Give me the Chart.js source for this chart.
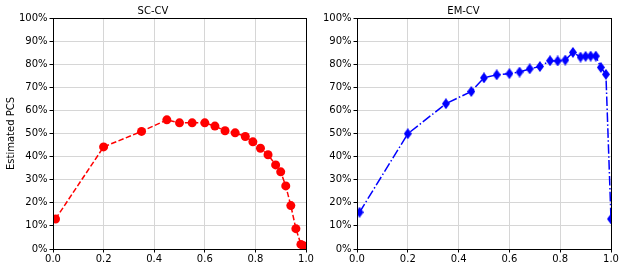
<!DOCTYPE html>
<html>
<head>
<meta charset="utf-8">
<script src="https://cdn.jsdelivr.net/npm/chart.js@4.4.1/dist/chart.umd.min.js"></script>
<style>
  html, body { margin: 0; padding: 0; background: #fff; }
  .caja { position: absolute; top: 0; height: 269px; }
  #cajaIzq { left: 0; width: 316px; }
  #cajaDer { left: 316px; width: 307px; }
</style>
</head>
<body>
<div class="caja" id="cajaIzq"><canvas id="graficaSC"></canvas></div>
<div class="caja" id="cajaDer"><canvas id="graficaEM"></canvas></div>
<script>
// Datos
const scX = [0.01, 0.2, 0.35, 0.45, 0.5, 0.55, 0.6, 0.64, 0.68, 0.72, 0.76, 0.79, 0.82, 0.85, 0.88, 0.9, 0.92, 0.94, 0.96, 0.98, 0.99];
const scY = [13.0, 44.2, 50.9, 55.9, 54.6, 54.6, 54.6, 53.2, 51.2, 50.3, 48.7, 46.4, 43.6, 40.8, 36.4, 33.4, 27.3, 18.8, 8.8, 2.0, 1.4];

const emX = [0.01, 0.2, 0.35, 0.45, 0.5, 0.55, 0.6, 0.64, 0.68, 0.72, 0.76, 0.79, 0.82, 0.85, 0.88, 0.9, 0.92, 0.94, 0.96, 0.98, 1.0];
const emY = [15.9, 49.9, 62.9, 68.2, 74.1, 75.4, 75.9, 76.6, 78.0, 79.0, 81.5, 81.4, 81.8, 85.1, 83.1, 83.4, 83.5, 83.5, 78.6, 75.6, 13.0];

const ticksX = [0, 0.2, 0.4, 0.6, 0.8, 1.0];

const fuente = "'DejaVu Sans', sans-serif";

// Rombo delgado (marcador 'd' de matplotlib)
function romboDelgado(color) {
    const c = document.createElement('canvas');
    c.width = 8; c.height = 11;
    const ctx = c.getContext('2d');
    ctx.fillStyle = color;
    ctx.beginPath();
    ctx.moveTo(4, 0);
    ctx.lineTo(8, 5.5);
    ctx.lineTo(4, 11);
    ctx.lineTo(0, 5.5);
    ctx.closePath();
    ctx.fill();
    return c;
}

// Marco negro alrededor del área de la gráfica
const marco = {
    id: 'marco',
    afterDraw(chart) {
        const a = chart.chartArea;
        const ctx = chart.ctx;
        ctx.save();
        ctx.strokeStyle = '#000';
        ctx.lineWidth = 1;
        ctx.strokeRect(Math.round(a.left) + 0.5, Math.round(a.top) + 0.5,
            Math.round(a.right - a.left), Math.round(a.bottom - a.top));
        ctx.restore();
    }
};

function puntos(xs, ys) {
    return xs.map((x, i) => ({ x: x, y: ys[i] }));
}

function opciones(titulo, anchoEjeY, tituloY, padDer) {
    return {
        responsive: true,
        maintainAspectRatio: false,
        animation: false,
        layout: { padding: { left: 0, right: padDer, top: 0, bottom: 0 } },
        plugins: {
            legend: { display: false },
            tooltip: { enabled: false },
            title: {
                display: true,
                text: titulo,
                color: '#000',
                font: { family: fuente, size: 10, weight: 'normal' },
                padding: { top: 5, bottom: 1 }
            }
        },
        scales: {
            x: {
                type: 'linear',
                min: 0,
                max: 1,
                afterBuildTicks: (scale) => { scale.ticks = ticksX.map(v => ({ value: v })); },
                afterFit: (scale) => { scale.height = 20; },
                ticks: {
                    color: '#000',
                    font: { family: fuente, size: 10 },
                    padding: 1,
                    maxRotation: 0,
                    callback: (v) => Number(v).toFixed(1)
                },
                grid: { color: '#d6d6d6', tickColor: '#000', tickLength: 3.5 },
                border: { color: '#000' }
            },
            y: {
                min: 0,
                max: 100,
                afterFit: (scale) => { scale.width = anchoEjeY; },
                ticks: {
                    stepSize: 10,
                    color: '#000',
                    font: { family: fuente, size: 10 },
                    padding: 2,
                    callback: (v) => v + '%'
                },
                title: {
                    display: tituloY !== '',
                    text: tituloY,
                    color: '#000',
                    font: { family: fuente, size: 10 },
                    padding: { top: 5, bottom: 0 }
                },
                grid: { color: '#d6d6d6', tickColor: '#000', tickLength: 3.5 },
                border: { color: '#000' }
            }
        }
    };
}

new Chart(document.querySelector('#graficaSC'), {
    type: 'scatter',
    data: {
        datasets: [{
            label: 'SC-CV',
            data: puntos(scX, scY),
            showLine: true,
            borderColor: '#ff0000',
            backgroundColor: '#ff0000',
            borderWidth: 1.5,
            borderDash: [5.5, 2.4],
            pointStyle: 'circle',
            pointRadius: 4.5,
            pointBorderWidth: 0
        }]
    },
    options: opciones('SC-CV', 53, 'Estimated PCS', 10),
    plugins: [marco]
});

new Chart(document.querySelector('#graficaEM'), {
    type: 'scatter',
    data: {
        datasets: [{
            label: 'EM-CV',
            data: puntos(emX, emY),
            showLine: true,
            borderColor: '#0000ff',
            backgroundColor: '#0000ff',
            borderWidth: 1.5,
            borderDash: [9.6, 2.4, 1.5, 2.4],
            pointStyle: romboDelgado('#0000ff'),
            pointBorderWidth: 0
        }]
    },
    options: opciones('EM-CV', 41, '', 12),
    plugins: [marco]
});
</script>
</body>
</html>
